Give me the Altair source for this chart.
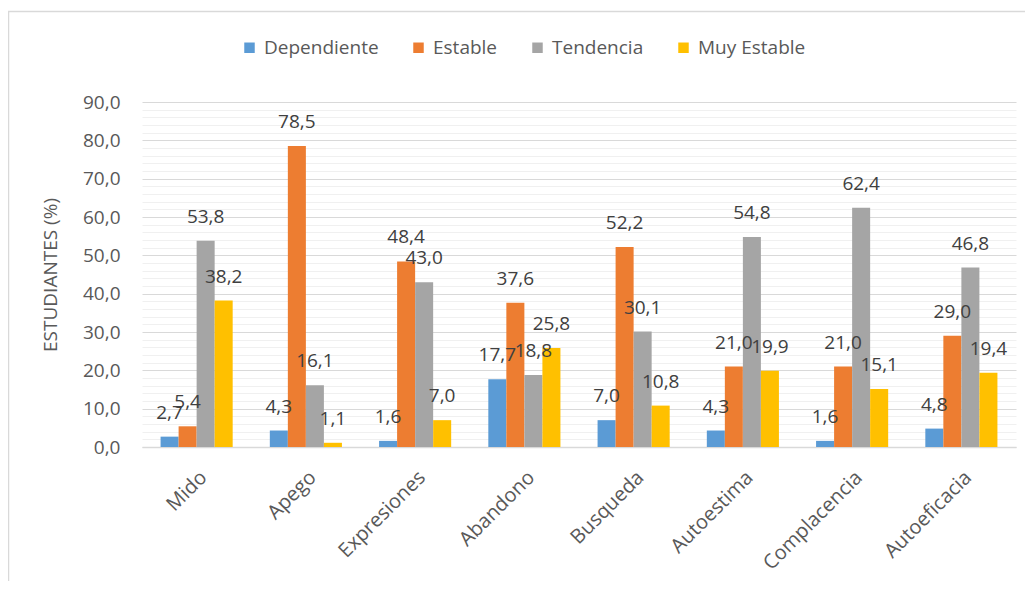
import altair as alt
import pandas as pd

categories = ["Mido", "Apego", "Expresiones", "Abandono", "Busqueda",
              "Autoestima", "Complacencia", "Autoeficacia"]
series_names = ["Dependiente", "Estable", "Tendencia", "Muy Estable"]
dependiente = [2.7, 4.3, 1.6, 17.7, 7.0, 4.3, 1.6, 4.8]
estable = [5.4, 78.5, 48.4, 37.6, 52.2, 21.0, 21.0, 29.0]
tendencia = [53.8, 16.1, 43.0, 18.8, 30.1, 54.8, 62.4, 46.8]
muy_estable = [38.2, 1.1, 7.0, 25.8, 10.8, 19.9, 15.1, 19.4]
colors = ["#5B9BD5", "#ED7D31", "#A5A5A5", "#FFC000"]
major_ticks = [0, 10, 20, 30, 40, 50, 60, 70, 80, 90]
minor_ticks = [v for v in range(0, 91, 2) if v % 10 != 0]

rows = []
for name, vals in zip(series_names, [dependiente, estable, tendencia, muy_estable]):
    for c, v in zip(categories, vals):
        rows.append({"category": c, "series": name, "value": v})
df = pd.DataFrame(rows)

FONT = "Open Sans"
GRAY = "#595959"

x_enc = alt.X("category:N", sort=categories,
              scale=alt.Scale(paddingInner=0.34, paddingOuter=0.17),
              axis=alt.Axis(title=None, labelAngle=-45, labelFontSize=20,
                            labelColor=GRAY, labelFont=FONT, ticks=False,
                            domainColor="#d9d9d9", domainWidth=1.5,
                            labelPadding=20))
xoff = alt.XOffset("series:N", sort=series_names)
y_scale = alt.Scale(domain=[0, 90], nice=False)

border = alt.Chart(pd.DataFrame({"k": [0]})).mark_rect(
    fill=None, stroke="#d9d9d9", strokeWidth=1.5
).encode(x=alt.value(-133.5), x2=alt.value(1000), y=alt.value(-90.5), y2=alt.value(700))

minor = alt.Chart(df).mark_point(opacity=0).encode(
    y=alt.Y("value:Q", scale=y_scale,
            axis=alt.Axis(values=minor_ticks, grid=True, gridColor="#f0f0f0",
                          gridWidth=1, labels=False, ticks=False, domain=False,
                          title=None, orient="right"))
)

bars = alt.Chart(df).mark_bar().encode(
    x=x_enc,
    xOffset=xoff,
    y=alt.Y("value:Q", scale=y_scale,
            axis=alt.Axis(values=major_ticks, grid=True, gridColor="#d9d9d9",
                          labelExpr="replace(format(datum.value, '.1f'), '.', ',')",
                          labelFontSize=19, labelColor=GRAY, labelFont=FONT,
                          labelPadding=22, ticks=False, domain=False,
                          title="ESTUDIANTES (%)", titleFontSize=19,
                          titleColor=GRAY, titleFont=FONT,
                          titleFontWeight="normal", titlePadding=22)),
    color=alt.Color("series:N", sort=series_names,
                    scale=alt.Scale(domain=series_names, range=colors),
                    legend=alt.Legend(title=None, orient="none", direction="horizontal",
                                      legendX=98, legendY=-64,
                                      symbolType="square", symbolSize=110,
                                      symbolStrokeWidth=0,
                                      labelFontSize=19, labelColor=GRAY,
                                      labelFont=FONT, labelOffset=5,
                                      columnPadding=30)),
)

text = alt.Chart(df).transform_calculate(
    label="replace(format(datum.value, '.1f'), '.', ',')"
).mark_text(font=FONT, fontSize=19, color="#404040", baseline="alphabetic", dy=-18).encode(
    x=alt.X("category:N", sort=categories),
    xOffset=xoff,
    y=alt.Y("value:Q", scale=y_scale, axis=None),
    text="label:N",
)

chart = alt.layer(border, minor, bars, text).resolve_axis(y="independent").properties(
    width=874, height=345,
    autosize=alt.AutoSizeParams(type="none"),
    padding={"left": 134, "top": 94, "right": 9, "bottom": 134},
).configure_view(stroke=None)

chart.save("out.html", embed_options={"renderer": "svg", "actions": False})
